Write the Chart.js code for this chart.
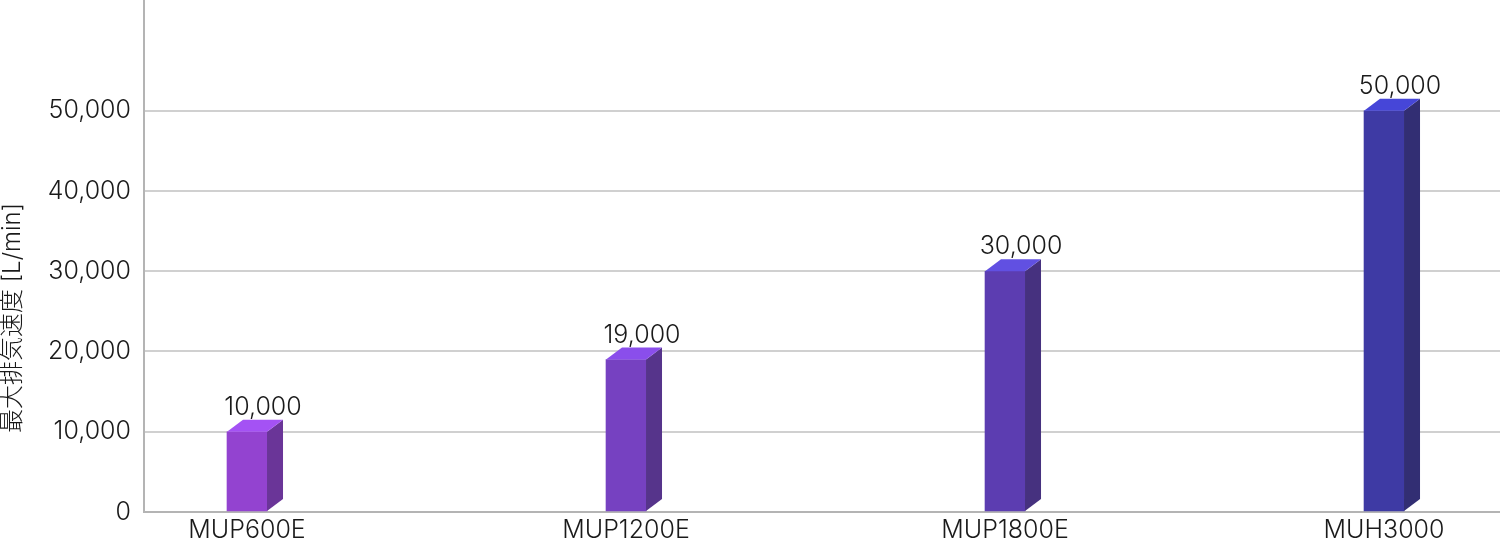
<!DOCTYPE html>
<html>
<head>
<meta charset="utf-8">
<script src="https://cdn.jsdelivr.net/npm/chart.js@4"></script>
<style>
html,body{margin:0;padding:0;background:#fff;}
#wrap{width:1500px;height:545px;position:relative;}
</style>
</head>
<body>
<div id="wrap"><canvas id="c"></canvas></div>
<script>
const categories = ['MUP600E', 'MUP1200E', 'MUP1800E', 'MUH3000'];
const values = [10000, 19000, 30000, 50000];
const yTicks = [0, 10000, 20000, 30000, 40000, 50000];
const yTitle = '最大排気速度 [L/min]';
const frontColors = ['#9343D0', '#7641C1', '#5C3DB1', '#3E3AA4'];
const topColors = ['#A452F4', '#8A4EEB', '#6150E2', '#4646D8'];
const sideColors = ['#6A3598', '#56348B', '#46317F', '#322E73'];

const FONT = 'Inter, "Noto Sans CJK JP", sans-serif';
const FS = 25;
const DX = 16, DY = 12;

const fmt = v => v.toLocaleString('en-US');

const bar3d = {
  id: 'bar3d',
  afterDatasetsDraw(chart) {
    const ctx = chart.ctx;
    const meta = chart.getDatasetMeta(0);
    meta.data.forEach((el, i) => {
      const p = el.getProps(['x', 'y', 'base', 'width'], true);
      const l = p.x - p.width / 2, r = p.x + p.width / 2, t = p.y, b = p.base;
      ctx.save();
      ctx.fillStyle = sideColors[i];
      ctx.beginPath();
      ctx.moveTo(r, t);
      ctx.lineTo(r + DX, t - DY);
      ctx.lineTo(r + DX, b - DY);
      ctx.lineTo(r, b);
      ctx.closePath();
      ctx.fill();
      ctx.fillStyle = topColors[i];
      ctx.beginPath();
      ctx.moveTo(l, t);
      ctx.lineTo(l + DX, t - DY);
      ctx.lineTo(r + DX, t - DY);
      ctx.lineTo(r, t);
      ctx.closePath();
      ctx.fill();
      ctx.fillStyle = '#1a1a1a';
      ctx.font = '300 ' + FS + 'px ' + FONT;
      ctx.textAlign = 'center';
      ctx.textBaseline = 'alphabetic';
      ctx.fillText(fmt(values[i]), p.x + DX, t - DY - 5);
      ctx.restore();
    });
  },
  afterDraw(chart) {
    const ctx = chart.ctx;
    ctx.save();
    ctx.translate(13, 318);
    ctx.rotate(-Math.PI / 2);
    ctx.fillStyle = '#1a1a1a';
    ctx.font = '300 24px ' + FONT;
    ctx.textAlign = 'center';
    ctx.textBaseline = 'middle';
    ctx.fillText(yTitle, 0, 0);
    ctx.restore();
  }
};

new Chart(document.getElementById('c'), {
  type: 'bar',
  data: {
    datasets: [{
      data: values.map((v, i) => ({x: i, y: v})),
      backgroundColor: frontColors,
      borderWidth: 0,
      barThickness: 40
    }]
  },
  options: {
    responsive: true,
    maintainAspectRatio: false,
    animation: false,
    layout: {padding: 0},
    plugins: {legend: {display: false}, tooltip: {enabled: false}},
    scales: {
      x: {
        type: 'linear',
        offset: false,
        min: -0.2718,
        max: 3.306,
        afterBuildTicks: s => { s.ticks = categories.map((c, i) => ({value: i})); },
        afterFit: s => { s.height = 33; s.paddingLeft = 0; s.paddingRight = 0; },
        grid: {display: false, drawTicks: false},
        border: {color: '#b4b4b4', width: 2},
        ticks: {
          autoSkip: false,
          maxRotation: 0,
          padding: 3,
          color: '#1a1a1a',
          font: {family: FONT, size: FS, weight: '300'},
          callback: v => categories[v]
        }
      },
      y: {
        min: 0,
        max: 63800,
        afterBuildTicks: s => { s.ticks = yTicks.map(v => ({value: v})); },
        afterFit: s => { s.width = 144; s.paddingTop = 0; s.paddingBottom = 0; },
        grid: {color: '#d0d0d0', lineWidth: 2, drawTicks: false},
        border: {color: '#b4b4b4', width: 2},
        ticks: {
          padding: 13,
          color: '#1a1a1a',
          font: {family: FONT, size: FS, weight: '300'},
          callback: v => fmt(v)
        }
      }
    }
  },
  plugins: [bar3d]
});
</script>
</body>
</html>
